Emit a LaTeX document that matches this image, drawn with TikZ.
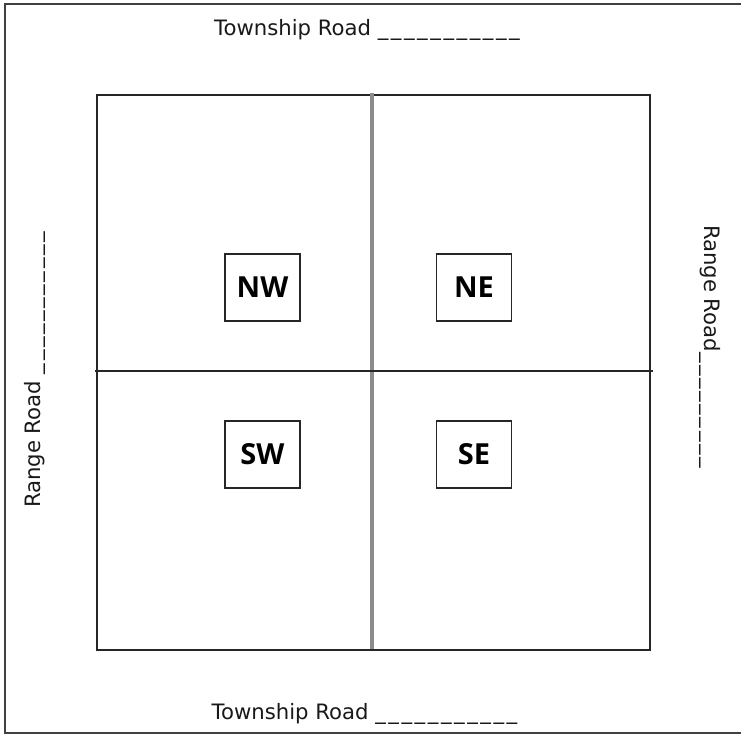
\documentclass[tikz,border=0pt]{standalone}
\usepackage{fontspec}
\setmainfont{DejaVu Sans}
\newfontfamily\boxfont{Open Sans}
\newcommand{\dashfill}[1]{{\addfontfeature{LetterSpace=12}#1}}
\begin{document}
\begin{tikzpicture}[x=1pt,y=-1pt,
  frameline/.style={draw=black!75, line width=2pt},
  quad/.style={draw=black!85, line width=2.2pt},
  divider/.style={draw=black!45, line width=3.2pt},
  midline/.style={draw=black!85, line width=2.2pt},
  dirbox/.style={draw=black!85, line width=1.8pt, minimum width=75pt, minimum height=67pt, inner sep=0pt, font=\boxfont\bfseries\fontsize{29}{29}\selectfont},
  roadlabel/.style={inner sep=0pt, font=\fontsize{21.2}{22}\selectfont, text=black!90}]
\useasboundingbox (0,0) rectangle (741,735);
% outer frame
\coordinate (ftr) at (741,4);
\coordinate (ftl) at (5,4);
\coordinate (fbl) at (5,733);
\coordinate (fbr) at (741,733);
\draw[frameline] (ftr) -- (ftl) -- (fbl) -- (fbr);
% inner square
\node[quad, minimum width=553pt, minimum height=555pt, inner sep=0pt] (sq) at (373.5,372.5) {};
% dividers
\coordinate (vt) at (372,93);
\coordinate (vb) at (372,649);
\coordinate (hl) at (95,371);
\coordinate (hr) at (653,371);
\draw[divider] (vt) -- (vb);
\draw[midline] (hl) -- (hr);
% quarter boxes
\node[dirbox] (nw) at (262.5,287.5) {NW};
\node[dirbox] (ne) at (474,287.5) {NE};
\node[dirbox] (sw) at (262.5,454.5) {SW};
\node[dirbox] (se) at (474,454.5) {SE};
% road labels
\node[roadlabel] (tn) at (367,30) {Township Road \dashfill{\_\_\_\_\_\_\_\_\_\_\_}};
\node[roadlabel] (ts) at (364.5,714) {Township Road \dashfill{\_\_\_\_\_\_\_\_\_\_\_}};
\node[roadlabel, rotate=90] (rw) at (35,370) {Range Road \dashfill{\_\_\_\_\_\_\_\_\_\_\_}};
\node[roadlabel, rotate=-90] (re) at (710,346.5) {Range Road\dashfill{\_\_\_\_\_\_\_\_\_}};
\end{tikzpicture}
\end{document}
